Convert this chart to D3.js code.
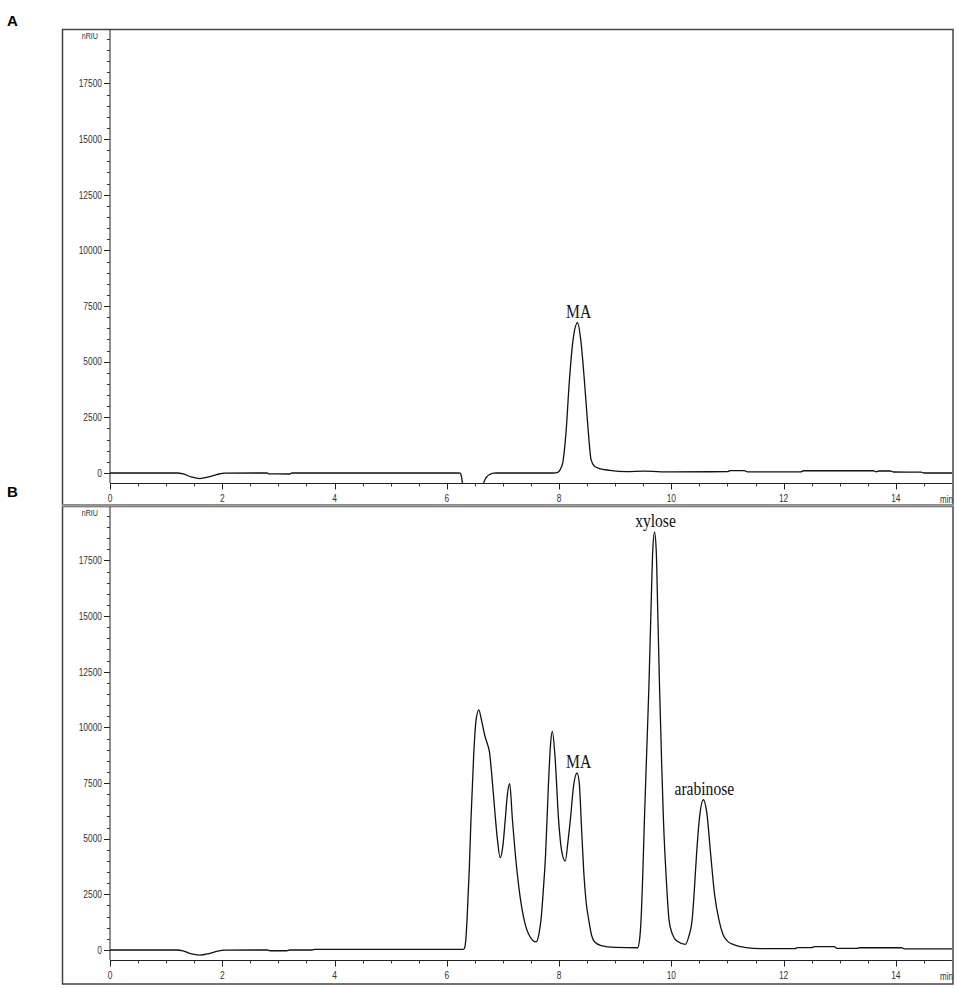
<!DOCTYPE html>
<html>
<head>
<meta charset="utf-8">
<script src="https://cdn.jsdelivr.net/npm/d3@7"></script>
<style>
  html, body { margin: 0; padding: 0; background: #fff; }
  svg { display: block; }
  .tick-label { font-family: "Liberation Sans", Arial, sans-serif; font-size: 10.5px; fill: #333; }
  .peak-label { font-family: "Liberation Serif", "Times New Roman", serif; fill: #111; }
  .panel-label { font-family: "Liberation Sans", Arial, sans-serif; font-weight: bold; font-size: 15px; fill: #000; }
</style>
</head>
<body>
<svg id="chart" width="957" height="988"></svg>
<script>
// ---------------- DATA ----------------
const panels = ["A", "B"];
const xTickValues = [0, 2, 4, 6, 8, 10, 12, 14];
const yTickValues = [0, 2500, 5000, 7500, 10000, 12500, 15000, 17500];
const xUnit = "min";
const yUnit = "nRIU";

// Panel A: standard (retention time in min, signal in nRIU)
const traceA = [
  [0, 0], [1.2, 0], [1.3, -40], [1.45, -180], [1.6, -250], [1.75, -180], [1.9, -70], [2.05, -5],
  [2.8, 0], [2.83, -40], [3.2, -45], [3.24, 0], [4.0, 0], [6.2, 0], [6.24, -10],
  [6.255, -100], [6.27, -300], [6.28, -500], [6.3, -2000], [6.35, -4000], [6.6, -4000],
  [6.64, -1200], [6.66, -450], [6.68, -300], [6.72, -150], [6.77, -60], [6.83, -10], [6.9, 0],
  [7.9, 0], [7.97, 20], [8.02, 150], [8.07, 520], [8.12, 1700], [8.185, 4190], [8.25, 6000],
  [8.33, 6750], [8.39, 5900], [8.45, 4190], [8.51, 2200], [8.57, 600], [8.63, 300],
  [8.72, 200], [8.9, 120], [9.2, 60], [9.5, 80], [10.0, 50], [11.0, 60], [11.05, 110],
  [11.3, 110], [11.36, 50], [12.3, 50], [12.36, 100], [13.6, 100], [13.65, 55], [13.7, 90],
  [13.9, 90], [13.96, 45], [14.45, 40], [14.5, 0], [15, 0]
];

// Panel B: sample
const traceB = [
  [0, 0], [1.2, 0], [1.3, -40], [1.45, -180], [1.6, -230], [1.75, -170], [1.9, -60], [2.05, -5],
  [2.8, 0], [2.85, -35], [3.15, -35], [3.2, 0], [3.6, 0], [3.65, 30], [6.28, 30],
  [6.31, 60], [6.34, 500], [6.36, 1330], [6.4, 3600], [6.43, 5820], [6.48, 8810], [6.52, 10300],
  [6.57, 10790], [6.62, 10300], [6.68, 9600], [6.73, 9200], [6.76, 8900], [6.8, 7900],
  [6.85, 6400], [6.9, 5000], [6.95, 4150], [7.0, 4700], [7.04, 5820], [7.08, 7000], [7.12, 7470],
  [7.17, 5820], [7.22, 4320], [7.3, 2500], [7.38, 1330], [7.47, 650], [7.59, 360],
  [7.64, 700], [7.68, 1400], [7.72, 2700], [7.76, 4300], [7.81, 7400], [7.85, 9300], [7.88, 9820],
  [7.93, 8600], [7.99, 5900], [8.05, 4400], [8.11, 3995], [8.16, 4900], [8.2, 5820], [8.26, 7400],
  [8.32, 7950], [8.36, 7500], [8.4, 5500], [8.44, 3500], [8.48, 2200], [8.53, 1330], [8.58, 650],
  [8.64, 350], [8.75, 200], [9.0, 120], [9.4, 100], [9.44, 600], [9.46, 1330], [9.49, 3300],
  [9.52, 5820], [9.56, 8800], [9.6, 11800], [9.64, 15500], [9.67, 18000], [9.7, 18770],
  [9.73, 18000], [9.76, 15000], [9.79, 11800], [9.83, 8200], [9.86, 5820], [9.91, 3200],
  [9.96, 1330], [10.02, 700], [10.1, 400], [10.25, 255], [10.31, 600], [10.37, 1330],
  [10.41, 2700], [10.45, 4320], [10.5, 5900], [10.57, 6750], [10.63, 6200], [10.7, 4320],
  [10.77, 2500], [10.85, 1330], [10.92, 700], [11.0, 400], [11.1, 250], [11.3, 120],
  [11.6, 60], [12.2, 60], [12.25, 110], [12.5, 110], [12.55, 150], [12.9, 150], [12.95, 70],
  [13.3, 70], [13.35, 100], [14.1, 100], [14.15, 50], [15, 50]
];

const peakLabelsA = [{ text: "MA", t: 8.33, v: 6750 }];
const peakLabelsB = [
  { text: "xylose", t: 9.7, v: 18770 },
  { text: "MA", t: 8.33, v: 7950 },
  { text: "arabinose", t: 10.57, v: 6750 }
];

// ---------------- LAYOUT ----------------
const svg = d3.select("#chart");
const frames = [
  { top: 29.5, bottom: 505, labelY: 26 },
  { top: 506.5, bottom: 984, labelY: 497 }
];
const plotLeft = 110, plotRight = 952;
const xDomain = [0, 15];
const yDomain = [-450, 19900];
const narrow = 0.8;

function drawPanel(idx, trace, labels) {
  const fr = frames[idx];
  const axisBottom = fr.top + 453.5;   // x axis line position
  const axisTop = fr.top + 0.5;

  const x = d3.scaleLinear().domain(xDomain).range([plotLeft, plotRight]);
  const y = d3.scaleLinear().domain(yDomain).range([axisBottom, axisTop]);

  const g = svg.append("g");

  // frame
  g.append("rect")
    .attr("x", 62.5).attr("y", fr.top)
    .attr("width", 953 - 62.5).attr("height", fr.bottom - fr.top)
    .attr("fill", "none").attr("stroke", "#444").attr("stroke-width", 1.5);

  // clip
  const clipId = "clip" + idx;
  svg.append("clipPath").attr("id", clipId)
    .append("rect").attr("x", plotLeft).attr("y", axisTop)
    .attr("width", plotRight - plotLeft).attr("height", axisBottom - axisTop);

  // y axis
  const yMinor = d3.range(0, 19501, 500).filter(v => v % 2500 !== 0);
  const yAxis = g.append("g").attr("transform", `translate(${plotLeft},0)`);
  yAxis.append("line").attr("x1", 0).attr("x2", 0).attr("y1", axisTop).attr("y2", axisBottom)
    .attr("stroke", "#222").attr("stroke-width", 1);
  yAxis.selectAll("line.minor").data(yMinor).join("line").attr("class", "minor")
    .attr("x1", -3).attr("x2", 0).attr("y1", d => Math.round(y(d)) + 0.5).attr("y2", d => Math.round(y(d)) + 0.5)
    .attr("stroke", "#333").attr("stroke-width", 1);
  yAxis.selectAll("line.major").data(yTickValues).join("line").attr("class", "major")
    .attr("x1", -6).attr("x2", 0).attr("y1", d => Math.round(y(d)) + 0.5).attr("y2", d => Math.round(y(d)) + 0.5)
    .attr("stroke", "#222").attr("stroke-width", 1);
  yAxis.selectAll("text").data(yTickValues).join("text").attr("class", "tick-label")
    .attr("transform", d => `translate(-8,${y(d)}) scale(${narrow},1)`)
    .attr("dy", "0.36em").attr("text-anchor", "end")
    .text(d => d);
  yAxis.append("text").attr("class", "tick-label")
    .attr("transform", `translate(-12,${axisTop + 9}) scale(${narrow},1)`)
    .attr("text-anchor", "end").style("font-size", "9px").text(yUnit);

  // x axis
  const xMinor = d3.range(0.5, 15, 0.5).filter(v => v % 2 !== 0);
  const xAxis = g.append("g").attr("transform", `translate(0,${Math.round(axisBottom) + 0.5})`);
  xAxis.append("line").attr("x1", plotLeft).attr("x2", plotRight).attr("y1", 0).attr("y2", 0)
    .attr("stroke", "#222").attr("stroke-width", 1);
  xAxis.selectAll("line.minor").data(xMinor).join("line").attr("class", "minor")
    .attr("x1", d => Math.round(x(d)) + 0.5).attr("x2", d => Math.round(x(d)) + 0.5)
    .attr("y1", 0).attr("y2", 3).attr("stroke", "#333");
  xAxis.selectAll("line.major").data(xTickValues).join("line").attr("class", "major")
    .attr("x1", d => Math.round(x(d)) + 0.5).attr("x2", d => Math.round(x(d)) + 0.5)
    .attr("y1", 0).attr("y2", 6).attr("stroke", "#222");
  xAxis.selectAll("text").data(xTickValues).join("text").attr("class", "tick-label")
    .attr("transform", d => `translate(${x(d)},18) scale(${narrow},1)`)
    .attr("text-anchor", "middle")
    .text(d => d);
  xAxis.append("text").attr("class", "tick-label")
    .attr("transform", `translate(940,19) scale(${narrow},1)`)
    .attr("text-anchor", "start").style("font-size", "10px").text(xUnit);

  // trace
  const line = d3.line().x(d => x(d[0])).y(d => y(d[1])).curve(d3.curveMonotoneX);
  g.append("path").datum(trace)
    .attr("clip-path", `url(#${clipId})`)
    .attr("d", line)
    .attr("fill", "none").attr("stroke", "#111").attr("stroke-width", 1.3)
    .attr("stroke-linejoin", "round");

  // peak labels
  g.selectAll("text.peak-label").data(labels).join("text").attr("class", "peak-label")
    .attr("transform", d => `translate(${x(d.t) + 1},${y(d.v) - 5}) scale(0.8,1)`)
    .attr("text-anchor", "middle")
    .style("font-size", "19.5px")
    .text(d => d.text);

  // panel letter
  svg.append("text").attr("class", "panel-label").attr("x", 7).attr("y", fr.labelY).text(panels[idx]);
}

drawPanel(0, traceA, peakLabelsA);
drawPanel(1, traceB, peakLabelsB);

// gray separator band between the panels
svg.append("line").attr("x1", 62).attr("x2", 954).attr("y1", 505.5).attr("y2", 505.5)
  .attr("stroke", "#999").attr("stroke-width", 2.5);
</script>
</body>
</html>
